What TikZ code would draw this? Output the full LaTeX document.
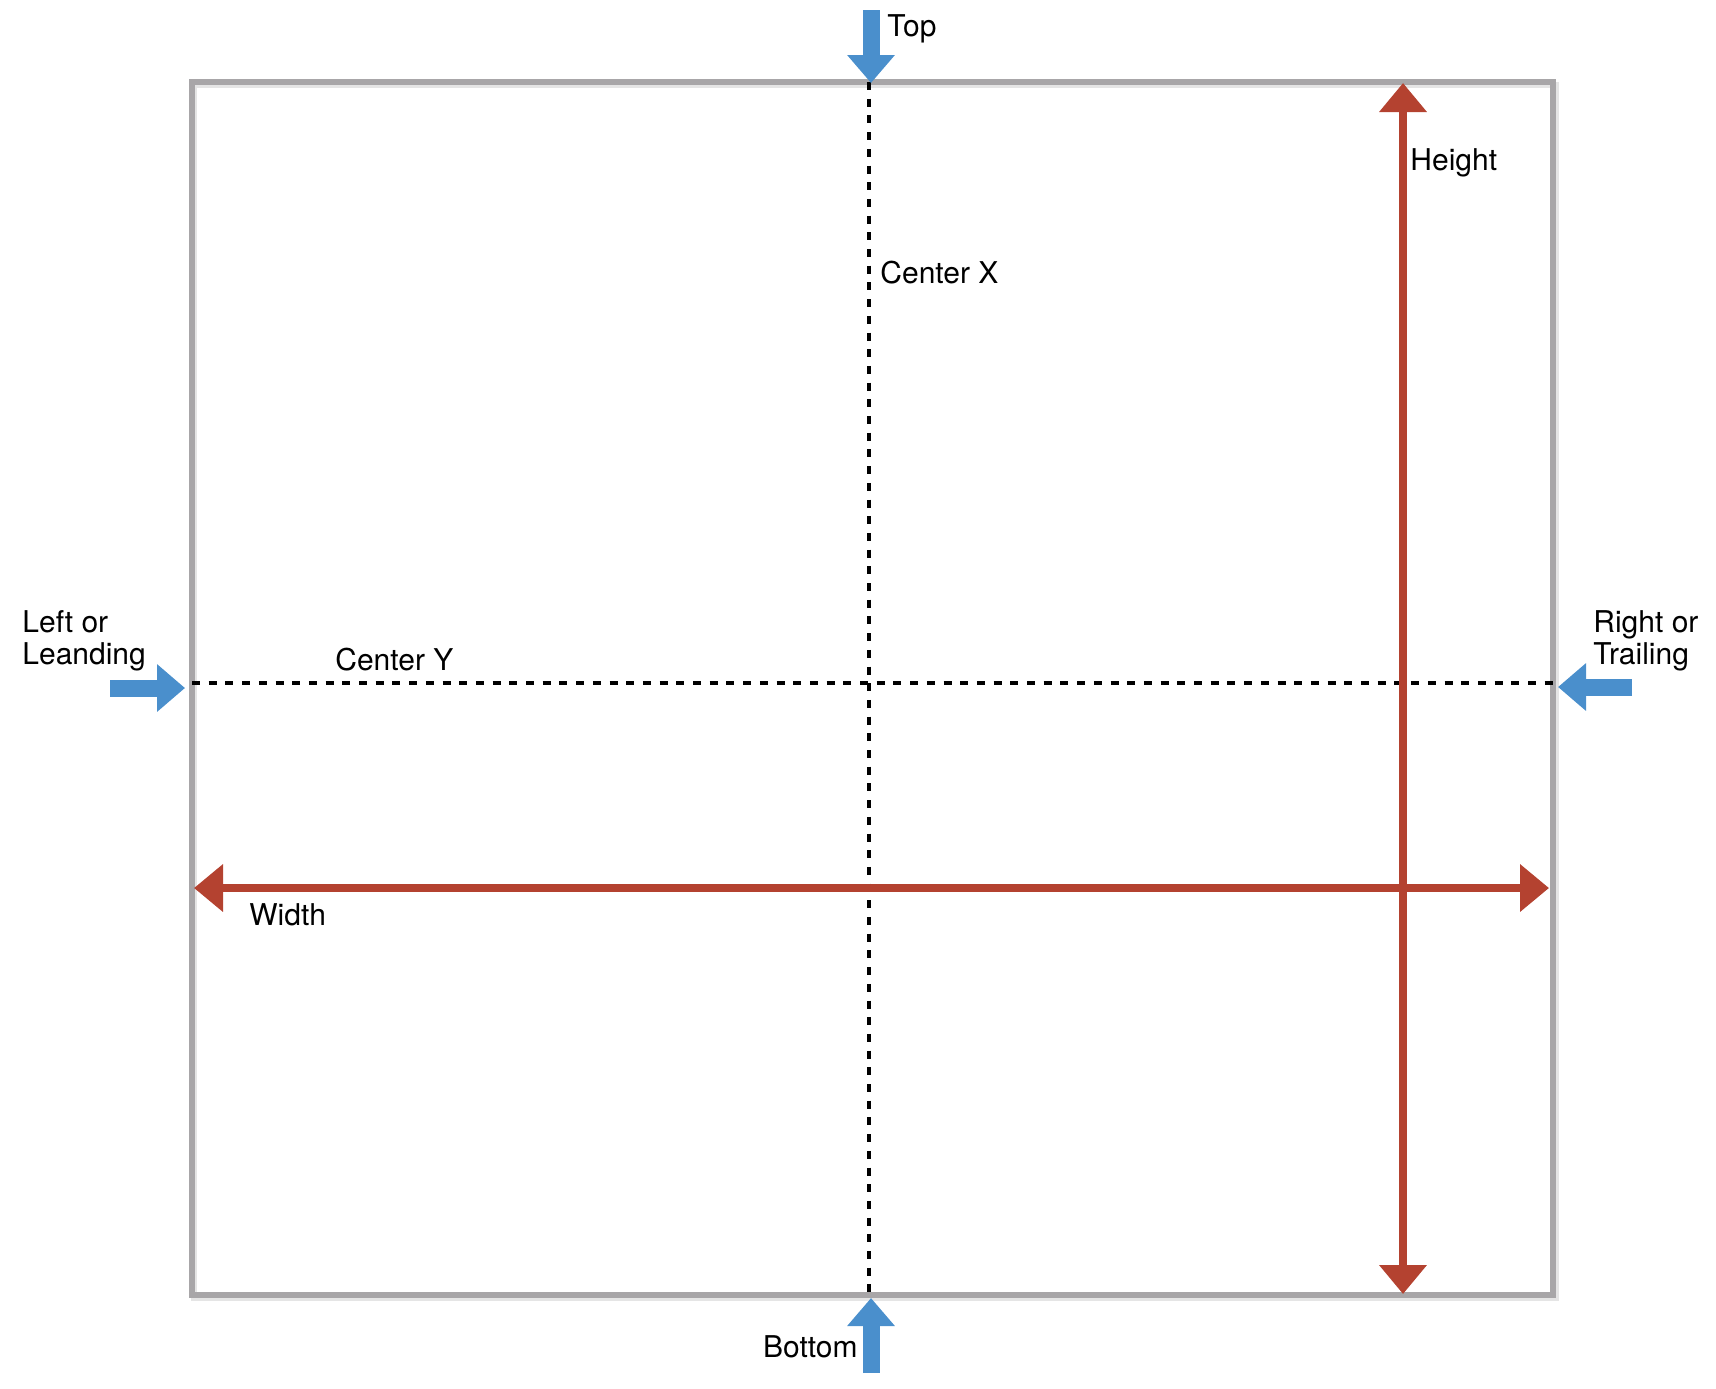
\documentclass[tikz,border=0pt]{standalone}
\usepackage{fontspec}
\setmainfont{TeX Gyre Heros}
\usepackage{xcolor}
\usepackage{tikz}
\usetikzlibrary{arrows.meta}
\definecolor{frameGray}{RGB}{168,166,168}
\definecolor{sideBlue}{RGB}{74,143,204}
\definecolor{dimRed}{RGB}{180,66,48}
\tikzset{>=stealth}
\tikzset{
  boxframe/.style={line width=3pt, frameGray},
  centerline/.style={line width=2pt, dash pattern=on 4pt off 4.35pt},
  sidearrow/.style={-{Triangle[width=23pt,length=14pt]}, line width=8.5pt, sideBlue},
  dimarrow/.style={{Triangle[width=23pt,length=14.5pt]}-{Triangle[width=23pt,length=14.5pt]}, line width=4pt, dimRed},
  lbl/.style={inner sep=0pt, font=\fontsize{15}{16.2}\selectfont}
}

\begin{document}
\begin{tikzpicture}[x=0.5pt,y=-0.5pt]
      \useasboundingbox (0,0) rectangle (1716,1388);
      \coordinate (tl) at (192,82);
      \coordinate (br) at (1553,1295);
      \coordinate (cxTop) at (869,82);
      \coordinate (cxBot) at (869,1295);
      \coordinate (cyLeft) at (192,683);
      \coordinate (cyRight) at (1553,683);
      \draw[line width=3pt, gray!20] (194,85) rectangle (1556,1298);
      \draw[boxframe] (tl) rectangle (br);
      \draw[centerline] (cxTop) -- (cxBot);
      \draw[centerline] (cyLeft) -- (cyRight);
      \coordinate (hTop) at (1403,83);
      \coordinate (hBot) at (1403,1294);
      \coordinate (wLeft) at (194,888);
      \coordinate (wRight) at (1549,888);
      \draw[dimarrow] (hBot) -- (hTop);
      \draw[dimarrow] (wLeft) -- (wRight);
      \coordinate (topTail) at (871,10);
      \coordinate (topTip) at (871,83);
      \coordinate (botTail) at (871,1373);
      \coordinate (botTip) at (871,1298);
      \coordinate (leftTail) at (110,688);
      \coordinate (leftTip) at (185,688);
      \coordinate (rightTail) at (1632,687);
      \coordinate (rightTip) at (1558,687);
      \draw[sidearrow] (topTail) -- (topTip);
      \draw[sidearrow] (botTail) -- (botTip);
      \draw[sidearrow] (leftTail) -- (leftTip);
      \draw[sidearrow] (rightTail) -- (rightTip);
      \node[lbl, anchor=base west] (lblTop) at (887,36) {Top};
      \node[lbl, anchor=base east] (lblBottom) at (858,1357) {Bottom};
      \node[lbl, anchor=base west] (lblCenterX) at (880,283) {Center X};
      \node[lbl, anchor=base west] (lblCenterY) at (335,670) {Center Y};
      \node[lbl, anchor=base west] (lblHeight) at (1410,170) {Height};
      \node[lbl, anchor=base west] (lblWidth) at (249,925) {Width};
      \node[lbl, anchor=north west, align=left] (lblLeft) at (22,610) {Left or\\Leanding};
      \node[lbl, anchor=north west, align=left] (lblRight) at (1593,610) {Right or\\Trailing};
    \end{tikzpicture}
\end{document}
